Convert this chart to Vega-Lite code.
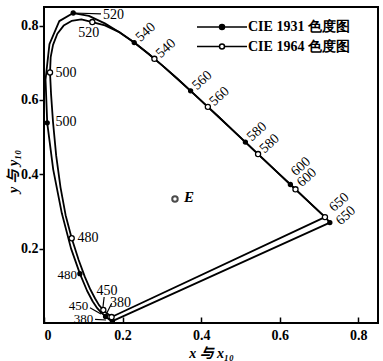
{
  "$schema": "https://vega.github.io/schema/vega-lite/v6.json",
  "width": 334,
  "height": 316,
  "autosize": {"type": "none"},
  "padding": {"left": 44, "top": 7, "right": 5, "bottom": 38},
  "background": "white",
  "config": {
    "view": {"stroke": "black", "strokeWidth": 2},
    "font": "Liberation Serif",
    "axis": {
      "domain": false, "grid": false,
      "labelFont": "Liberation Serif", "labelFontSize": 14, "labelFontWeight": "bold", "labelColor": "black",
      "tickColor": "black", "tickWidth": 1.5,
      "titleFont": "Liberation Serif, Noto Sans CJK SC", "titleFontSize": 14, "titleFontWeight": "bold", "titleFontStyle": "italic", "titleColor": "black"
    },
    "legend": {"labelFont": "Liberation Serif", "labelFontSize": 14, "labelFontWeight": "bold", "labelColor": "black"}
  },
  "datasets": {
    "locus": [
      {"series": "CIE 1931", "seq": 1, "x": 0.1741, "y": 0.0050},
      {"series": "CIE 1931", "seq": 2, "x": 0.1733, "y": 0.0048},
      {"series": "CIE 1931", "seq": 3, "x": 0.1714, "y": 0.0051},
      {"series": "CIE 1931", "seq": 4, "x": 0.1689, "y": 0.0069},
      {"series": "CIE 1931", "seq": 5, "x": 0.1644, "y": 0.0109},
      {"series": "CIE 1931", "seq": 6, "x": 0.1566, "y": 0.0177},
      {"series": "CIE 1931", "seq": 7, "x": 0.1440, "y": 0.0297},
      {"series": "CIE 1931", "seq": 8, "x": 0.1355, "y": 0.0399},
      {"series": "CIE 1931", "seq": 9, "x": 0.1241, "y": 0.0578},
      {"series": "CIE 1931", "seq": 10, "x": 0.1096, "y": 0.0868},
      {"series": "CIE 1931", "seq": 11, "x": 0.0913, "y": 0.1327},
      {"series": "CIE 1931", "seq": 12, "x": 0.0687, "y": 0.2007},
      {"series": "CIE 1931", "seq": 13, "x": 0.0454, "y": 0.2950},
      {"series": "CIE 1931", "seq": 14, "x": 0.0235, "y": 0.4127},
      {"series": "CIE 1931", "seq": 15, "x": 0.0082, "y": 0.5384},
      {"series": "CIE 1931", "seq": 16, "x": 0.0039, "y": 0.6548},
      {"series": "CIE 1931", "seq": 17, "x": 0.0139, "y": 0.7502},
      {"series": "CIE 1931", "seq": 18, "x": 0.0389, "y": 0.8120},
      {"series": "CIE 1931", "seq": 19, "x": 0.0743, "y": 0.8338},
      {"series": "CIE 1931", "seq": 20, "x": 0.1142, "y": 0.8262},
      {"series": "CIE 1931", "seq": 21, "x": 0.1547, "y": 0.8059},
      {"series": "CIE 1931", "seq": 22, "x": 0.1929, "y": 0.7816},
      {"series": "CIE 1931", "seq": 23, "x": 0.2296, "y": 0.7543},
      {"series": "CIE 1931", "seq": 24, "x": 0.2658, "y": 0.7243},
      {"series": "CIE 1931", "seq": 25, "x": 0.3016, "y": 0.6923},
      {"series": "CIE 1931", "seq": 26, "x": 0.3373, "y": 0.6589},
      {"series": "CIE 1931", "seq": 27, "x": 0.3731, "y": 0.6245},
      {"series": "CIE 1931", "seq": 28, "x": 0.4087, "y": 0.5896},
      {"series": "CIE 1931", "seq": 29, "x": 0.4441, "y": 0.5547},
      {"series": "CIE 1931", "seq": 30, "x": 0.4788, "y": 0.5202},
      {"series": "CIE 1931", "seq": 31, "x": 0.5125, "y": 0.4866},
      {"series": "CIE 1931", "seq": 32, "x": 0.5448, "y": 0.4544},
      {"series": "CIE 1931", "seq": 33, "x": 0.5752, "y": 0.4242},
      {"series": "CIE 1931", "seq": 34, "x": 0.6029, "y": 0.3965},
      {"series": "CIE 1931", "seq": 35, "x": 0.6270, "y": 0.3725},
      {"series": "CIE 1931", "seq": 36, "x": 0.6658, "y": 0.3340},
      {"series": "CIE 1931", "seq": 37, "x": 0.6915, "y": 0.3083},
      {"series": "CIE 1931", "seq": 38, "x": 0.7079, "y": 0.2920},
      {"series": "CIE 1931", "seq": 39, "x": 0.7190, "y": 0.2809},
      {"series": "CIE 1931", "seq": 40, "x": 0.7275, "y": 0.2700},
      {"series": "CIE 1931", "seq": 41, "x": 0.1741, "y": 0.0050},
      {"series": "CIE 1964", "seq": 1, "x": 0.172, "y": 0.016},
      {"series": "CIE 1964", "seq": 2, "x": 0.165, "y": 0.022},
      {"series": "CIE 1964", "seq": 3, "x": 0.158, "y": 0.028},
      {"series": "CIE 1964", "seq": 4, "x": 0.151, "y": 0.035},
      {"series": "CIE 1964", "seq": 5, "x": 0.140, "y": 0.048},
      {"series": "CIE 1964", "seq": 6, "x": 0.130, "y": 0.066},
      {"series": "CIE 1964", "seq": 7, "x": 0.118, "y": 0.090},
      {"series": "CIE 1964", "seq": 8, "x": 0.104, "y": 0.124},
      {"series": "CIE 1964", "seq": 9, "x": 0.088, "y": 0.170},
      {"series": "CIE 1964", "seq": 10, "x": 0.0705, "y": 0.228},
      {"series": "CIE 1964", "seq": 11, "x": 0.055, "y": 0.290},
      {"series": "CIE 1964", "seq": 12, "x": 0.042, "y": 0.365},
      {"series": "CIE 1964", "seq": 13, "x": 0.031, "y": 0.450},
      {"series": "CIE 1964", "seq": 14, "x": 0.023, "y": 0.540},
      {"series": "CIE 1964", "seq": 15, "x": 0.018, "y": 0.615},
      {"series": "CIE 1964", "seq": 16, "x": 0.0153, "y": 0.674},
      {"series": "CIE 1964", "seq": 17, "x": 0.017, "y": 0.715},
      {"series": "CIE 1964", "seq": 18, "x": 0.023, "y": 0.748},
      {"series": "CIE 1964", "seq": 19, "x": 0.034, "y": 0.778},
      {"series": "CIE 1964", "seq": 20, "x": 0.050, "y": 0.800},
      {"series": "CIE 1964", "seq": 21, "x": 0.070, "y": 0.8125},
      {"series": "CIE 1964", "seq": 22, "x": 0.095, "y": 0.8165},
      {"series": "CIE 1964", "seq": 23, "x": 0.123, "y": 0.8095},
      {"series": "CIE 1964", "seq": 24, "x": 0.155, "y": 0.8005},
      {"series": "CIE 1964", "seq": 25, "x": 0.1929, "y": 0.7816},
      {"series": "CIE 1964", "seq": 26, "x": 0.2296, "y": 0.7543},
      {"series": "CIE 1964", "seq": 27, "x": 0.2658, "y": 0.7243},
      {"series": "CIE 1964", "seq": 28, "x": 0.281, "y": 0.7106},
      {"series": "CIE 1964", "seq": 29, "x": 0.3016, "y": 0.6923},
      {"series": "CIE 1964", "seq": 30, "x": 0.3373, "y": 0.6589},
      {"series": "CIE 1964", "seq": 31, "x": 0.3731, "y": 0.6245},
      {"series": "CIE 1964", "seq": 32, "x": 0.4087, "y": 0.5896},
      {"series": "CIE 1964", "seq": 33, "x": 0.417, "y": 0.5814},
      {"series": "CIE 1964", "seq": 34, "x": 0.4441, "y": 0.5547},
      {"series": "CIE 1964", "seq": 35, "x": 0.4788, "y": 0.5202},
      {"series": "CIE 1964", "seq": 36, "x": 0.5125, "y": 0.4866},
      {"series": "CIE 1964", "seq": 37, "x": 0.5448, "y": 0.4544},
      {"series": "CIE 1964", "seq": 38, "x": 0.5752, "y": 0.4242},
      {"series": "CIE 1964", "seq": 39, "x": 0.6029, "y": 0.3965},
      {"series": "CIE 1964", "seq": 40, "x": 0.6270, "y": 0.3725},
      {"series": "CIE 1964", "seq": 41, "x": 0.640, "y": 0.3596},
      {"series": "CIE 1964", "seq": 42, "x": 0.6658, "y": 0.3340},
      {"series": "CIE 1964", "seq": 43, "x": 0.6915, "y": 0.3083},
      {"series": "CIE 1964", "seq": 44, "x": 0.7079, "y": 0.2920},
      {"series": "CIE 1964", "seq": 45, "x": 0.715, "y": 0.2849},
      {"series": "CIE 1964", "seq": 46, "x": 0.172, "y": 0.016}
    ],
    "markers1931": [
      {"series": "CIE 1931 色度图", "wl": 380, "x": 0.1741, "y": 0.0050},
      {"series": "CIE 1931 色度图", "wl": 450, "x": 0.1566, "y": 0.0177},
      {"series": "CIE 1931 色度图", "wl": 480, "x": 0.0913, "y": 0.1327},
      {"series": "CIE 1931 色度图", "wl": 500, "x": 0.0082, "y": 0.5384},
      {"series": "CIE 1931 色度图", "wl": 520, "x": 0.0743, "y": 0.8338},
      {"series": "CIE 1931 色度图", "wl": 540, "x": 0.2296, "y": 0.7543},
      {"series": "CIE 1931 色度图", "wl": 560, "x": 0.3731, "y": 0.6245},
      {"series": "CIE 1931 色度图", "wl": 580, "x": 0.5125, "y": 0.4866},
      {"series": "CIE 1931 色度图", "wl": 600, "x": 0.6270, "y": 0.3725},
      {"series": "CIE 1931 色度图", "wl": 650, "x": 0.7275, "y": 0.2700}
    ],
    "markers1964": [
      {"series": "CIE 1964 色度图", "wl": 380, "x": 0.172, "y": 0.016},
      {"series": "CIE 1964 色度图", "wl": 450, "x": 0.151, "y": 0.035},
      {"series": "CIE 1964 色度图", "wl": 480, "x": 0.0705, "y": 0.228},
      {"series": "CIE 1964 色度图", "wl": 500, "x": 0.0153, "y": 0.674},
      {"series": "CIE 1964 色度图", "wl": 520, "x": 0.123, "y": 0.8095},
      {"series": "CIE 1964 色度图", "wl": 540, "x": 0.281, "y": 0.7106},
      {"series": "CIE 1964 色度图", "wl": 560, "x": 0.417, "y": 0.5814},
      {"series": "CIE 1964 色度图", "wl": 580, "x": 0.5448, "y": 0.4544},
      {"series": "CIE 1964 色度图", "wl": 600, "x": 0.640, "y": 0.3596},
      {"series": "CIE 1964 色度图", "wl": 650, "x": 0.715, "y": 0.2849}
    ],
    "notesDiag": [
      {"label": "600", "x": 0.6337, "y": 0.4018},
      {"label": "600", "x": 0.6490, "y": 0.3723},
      {"label": "650", "x": 0.7312, "y": 0.3056},
      {"label": "650", "x": 0.7483, "y": 0.2698}
    ],
    "notesLeft": [
      {"label": "520", "x": 0.1502, "y": 0.8284},
      {"label": "520", "x": 0.0873, "y": 0.780},
      {"label": "500", "x": 0.0293, "y": 0.6737},
      {"label": "500", "x": 0.0293, "y": 0.5398},
      {"label": "480", "x": 0.0853, "y": 0.2278},
      {"label": "450", "x": 0.1336, "y": 0.0861},
      {"label": "380", "x": 0.168, "y": 0.0551}
    ],
    "notesRight": [
      {"label": "480", "x": 0.084, "y": 0.129},
      {"label": "450", "x": 0.1128, "y": 0.0450},
      {"label": "380", "x": 0.1255, "y": 0.0100}
    ],
    "leaders": [
      {"x": 0.0743, "y": 0.8338, "x2": 0.145, "y2": 0.8315},
      {"x": 0.153, "y": 0.070, "x2": 0.150, "y2": 0.042},
      {"x": 0.1723, "y": 0.053, "x2": 0.1596, "y2": 0.0261},
      {"x": 0.117, "y": 0.041, "x2": 0.145, "y2": 0.024},
      {"x": 0.130, "y": 0.010, "x2": 0.158, "y2": 0.008}
    ],
    "whitePoint": [{"name": "E", "x": 0.3333, "y": 0.3333}]
  },
  "encoding": {
    "x": {"field": "x", "type": "quantitative", "scale": {"domain": [0, 0.85], "nice": false, "zero": false},
          "axis": {"title": "x 与 x₁₀", "values": [0, 0.2, 0.4, 0.6, 0.8], "tickSize": -6, "labelPadding": 11, "titlePadding": 4,
                   "labelExpr": "datum.value === 0 ? '0' : format(datum.value, '.1f')"}},
    "y": {"field": "y", "type": "quantitative", "scale": {"domain": [0, 0.85], "nice": false, "zero": false},
          "axis": {"title": "y 与 y₁₀", "values": [0.2, 0.4, 0.6, 0.8], "tickSize": 5, "labelPadding": 1,
                   "titleX": -31, "titleY": 164, "titleAlign": "center", "titleBaseline": "middle", "titleAngle": -90}}
  },
  "layer": [
    {
      "data": {"name": "locus"},
      "mark": {"type": "line", "color": "black", "strokeWidth": 1.8, "strokeJoin": "round"},
      "encoding": {
        "detail": {"field": "series"},
        "order": {"field": "seq", "type": "quantitative"}
      }
    },
    {
      "data": {"name": "leaders"},
      "mark": {"type": "rule", "color": "black", "strokeWidth": 1.2},
      "encoding": {
        "x2": {"field": "x2"},
        "y2": {"field": "y2"}
      }
    },
    {
      "data": {"name": "markers1931"},
      "mark": {"type": "point", "filled": true, "stroke": "black", "strokeWidth": 1.3, "opacity": 1, "size": 16},
      "encoding": {
        "fill": {"field": "series", "type": "nominal",
                 "scale": {"domain": ["CIE 1931 色度图", "CIE 1964 色度图"], "range": ["black", "white"]},
                 "legend": {"title": null, "orient": "none", "legendX": 171, "legendY": 13, "padding": 0,
                            "symbolType": "M-5,0H-0.5M0.5,0H5M0.5,0A0.5,0.5,0,1,1,-0.5,0A0.5,0.5,0,1,1,0.5,0Z",
                            "symbolSize": 100, "symbolStrokeColor": "black", "symbolStrokeWidth": 1.5,
                            "labelFont": "Liberation Serif", "labelFontSize": 14, "labelFontWeight": "bold",
                            "labelColor": "black", "labelOffset": 19, "rowPadding": 5.5, "labelLimit": 200}}
      }
    },
    {
      "data": {"name": "markers1964"},
      "mark": {"type": "point", "filled": true, "stroke": "black", "strokeWidth": 1.3, "opacity": 1, "size": 26},
      "encoding": {
        "fill": {"field": "series", "type": "nominal"}
      }
    },
    {
      "data": {"name": "markers1931"},
      "transform": [{"filter": "datum.wl >= 540 && datum.wl <= 580"}],
      "mark": {"type": "text", "font": "Liberation Serif", "fontSize": 14, "color": "black", "angle": -42, "align": "left", "baseline": "middle", "dx": 5},
      "encoding": {"text": {"field": "wl", "type": "nominal"}}
    },
    {
      "data": {"name": "markers1964"},
      "transform": [{"filter": "datum.wl >= 540 && datum.wl <= 580"}],
      "mark": {"type": "text", "font": "Liberation Serif", "fontSize": 14, "color": "black", "angle": -42, "align": "left", "baseline": "middle", "dx": 5},
      "encoding": {"text": {"field": "wl", "type": "nominal"}}
    },
    {
      "data": {"name": "notesDiag"},
      "mark": {"type": "text", "font": "Liberation Serif", "fontSize": 14, "color": "black", "angle": -42, "align": "left", "baseline": "middle"},
      "encoding": {"text": {"field": "label", "type": "nominal"}}
    },
    {
      "data": {"name": "notesLeft"},
      "mark": {"type": "text", "font": "Liberation Serif", "fontSize": 14, "color": "black", "align": "left", "baseline": "middle"},
      "encoding": {"text": {"field": "label", "type": "nominal"}}
    },
    {
      "data": {"name": "notesRight"},
      "mark": {"type": "text", "font": "Liberation Serif", "fontSize": 13, "color": "black", "align": "right", "baseline": "middle"},
      "encoding": {"text": {"field": "label", "type": "nominal"}}
    },
    {
      "data": {"name": "whitePoint"},
      "mark": {"type": "point", "filled": true, "fill": "white", "stroke": "black", "strokeWidth": 2, "size": 30}
    },
    {
      "data": {"name": "whitePoint"},
      "mark": {"type": "text", "font": "Liberation Serif", "fontSize": 15, "fontStyle": "italic", "fontWeight": "bold", "color": "black", "align": "left", "baseline": "middle", "dx": 9, "dy": -2},
      "encoding": {"text": {"field": "name", "type": "nominal"}}
    }
  ]
}
